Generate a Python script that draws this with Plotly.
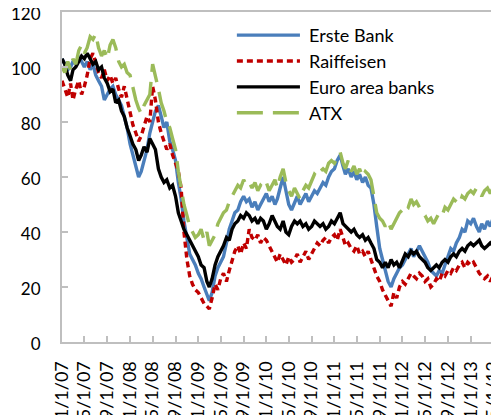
import plotly.graph_objects as go

# semi-monthly observations (1st and 16th), Jan 2007 - mid May 2013
years = range(2007, 2014)
dates = [f"{y}-{m:02d}-{d:02d}" for y in years for m in range(1, 13) for d in (1, 16)][:154]

erste = [
    103, 101, 99, 100, 102, 101, 104, 102, 100, 102, 99, 101, 97, 95, 93, 88, 90, 92, 93, 90, 88, 86, 82, 78,
    72, 68, 63, 60, 62, 66, 70, 76, 80, 84, 86, 82, 78, 80, 73, 70, 66, 58, 52, 44, 38, 32, 30, 28,
    25, 23, 20, 17, 15, 18, 24, 27, 29, 31, 36, 41, 44, 47, 48, 51, 53, 51, 52, 49, 51, 48, 50, 52,
    54, 51, 53, 50, 52, 56, 60, 55, 50, 48, 51, 53, 50, 52, 54, 51, 53, 55, 54, 56, 58, 57, 60, 62,
    63, 66, 68, 64, 61, 63, 60, 62, 59, 61, 58, 60, 57, 56, 50, 42, 34, 30, 26, 22, 20, 23, 25, 27,
    28, 30, 32, 34, 31, 33, 35, 33, 31, 29, 26, 25, 24, 26, 25, 28, 31, 34, 33, 36, 38, 41, 40, 44,
    43, 45, 42, 40, 43, 41, 44, 42, 45, 43,
]
raiffeisen = [
    95, 92, 89, 94, 88, 92, 95, 90, 93, 97, 103, 105, 101, 98, 96, 99, 95, 97, 94, 96, 92, 89, 93, 88,
    84, 79, 76, 73, 75, 78, 82, 80, 93, 88, 80, 76, 73, 70, 72, 68, 65, 62, 56, 40, 30, 24, 21, 19,
    18, 16, 14, 13, 12, 16, 21, 19, 23, 25, 22, 26, 30, 33, 35, 32, 36, 34, 41, 38, 37, 39, 36, 38,
    37, 35, 33, 31, 29, 32, 30, 28, 31, 29, 30, 32, 29, 31, 33, 30, 32, 34, 36, 35, 37, 38, 36, 38,
    39, 37, 41, 38, 35, 36, 34, 33, 35, 32, 33, 31, 33, 30, 27, 24, 22, 19, 17, 15, 13, 18, 16, 20,
    22, 21, 23, 25, 24, 23, 25, 24, 22, 23, 20, 21, 23, 22, 25, 24, 26, 25, 27, 26, 28, 29, 27, 29,
    28, 29, 27, 25, 24, 23, 24, 22, 24, 23,
]
euro_banks = [
    103, 101, 97, 95, 99, 100, 102, 104, 103, 105, 103, 101, 102, 99, 100, 96, 94, 91, 92, 87, 88, 84, 82, 78,
    75, 72, 70, 66, 68, 71, 69, 74, 72, 70, 63, 60, 58, 59, 56, 57, 53, 47, 44, 41, 39, 37, 35, 33,
    31, 28, 27, 22, 20, 23, 28, 31, 33, 35, 38, 37, 41, 43, 44, 46, 45, 47, 46, 44, 45, 43, 45, 44,
    41, 43, 46, 44, 42, 41, 44, 40, 39, 42, 44, 43, 44, 42, 43, 41, 42, 44, 43, 42, 43, 41, 42, 44,
    43, 45, 47, 43, 42, 41, 40, 41, 39, 38, 39, 37, 38, 36, 34, 30, 29, 27, 29, 27, 30, 28, 29, 27,
    30, 32, 31, 33, 32, 33, 31, 30, 29, 27, 26, 27, 28, 27, 29, 30, 29, 31, 32, 31, 33, 34, 33, 35,
    36, 35, 36, 37, 35, 34, 35, 36, 35, 37,
]
atx = [
    100, 98, 102, 99, 103, 101, 106, 108, 105, 107, 111, 110, 112, 107, 104, 106, 103, 108, 110, 107, 102, 100, 101, 98,
    97, 92, 88, 85, 83, 86, 88, 90, 101, 97, 92, 87, 84, 80, 78, 74, 70, 62, 55, 50, 46, 42, 40, 38,
    39, 41, 37, 40, 35, 37, 39, 43, 45, 47, 48, 51, 53, 55, 57, 56, 59, 57, 58, 56, 58, 55, 57, 56,
    58, 55, 57, 59, 56, 60, 63, 58, 55, 53, 56, 54, 52, 55, 57, 56, 59, 61, 60, 62, 63, 62, 65, 66,
    65, 67, 69, 65, 63, 66, 62, 64, 61, 63, 60, 62, 61, 59, 52, 47, 45, 44, 42, 44, 41, 43, 45, 47,
    48, 50, 49, 52, 50, 51, 49, 47, 46, 44, 45, 43, 45, 47, 46, 49, 48, 50, 52, 51, 50, 53, 52, 54,
    55, 54, 56, 55, 53, 55, 56, 54, 56, 55,
]

names = ["Erste Bank", "Raiffeisen", "Euro area banks", "ATX"]
series = [erste, raiffeisen, euro_banks, atx]
colors = ["#4a7ebb", "#c00000", "#000000", "#9bbb59"]
dashes = ["solid", "6px,4px", "solid", "26px,10px"]

tick_dates = [f"{y}-{m:02d}-01" for y in years for m in (1, 5, 9)][:20]
tick_text = [f"{m}/1/{y % 100:02d}" for y in years for m in (1, 5, 9)][:20]

AXIS_GREY = "#bfbfbf"

fig = go.Figure()
for name, vals, col, dash in zip(names, series, colors, dashes):
    fig.add_trace(go.Scatter(
        x=dates, y=vals, name=name, mode="lines",
        line=dict(color=col, width=3.4, dash=dash),
    ))

# legend drawn by hand so the sample lines are as long as in the original
for i, (name, col, dash) in enumerate(zip(names, colors, dashes)):
    ly = 0.930 - i * 0.0785
    fig.add_shape(type="line", xref="paper", yref="paper",
                  x0=0.402, x1=0.547, y0=ly, y1=ly,
                  line=dict(color=col, width=3.4, dash=dash))
    fig.add_annotation(xref="paper", yref="paper", x=0.563, y=ly,
                       xanchor="left", yanchor="middle", showarrow=False,
                       text=name, font=dict(size=18, color="#000000"))

# page body adds an 8px margin, so the figure is sized to fit the window
fig.update_layout(
    width=491, height=407,
    margin=dict(l=54, r=2, t=4, b=73),
    paper_bgcolor="white", plot_bgcolor="white",
    showlegend=False,
    font=dict(family="Lato, Open Sans, sans-serif", size=18, color="#000000"),
    xaxis=dict(
        type="date", range=["2007-01-01", "2013-05-22"],
        tickvals=tick_dates, ticktext=tick_text, tickangle=-90,
        ticks="inside", ticklen=6, tickcolor=AXIS_GREY, tickwidth=1.5,
        showline=True, linecolor=AXIS_GREY, linewidth=2, mirror=True,
        showgrid=False, zeroline=False, automargin=False,
        ticklabelstandoff=10, ticklabeloverflow="allow", tickfont=dict(size=18),
    ),
    yaxis=dict(
        range=[0, 120], dtick=20, tick0=0,
        ticks="inside", ticklen=6, tickcolor=AXIS_GREY, tickwidth=1.5,
        showline=True, linecolor=AXIS_GREY, linewidth=2, mirror=True,
        showgrid=False, zeroline=False, automargin=False,
        ticklabelstandoff=16, ticklabelshift=2, ticklabeloverflow="allow",
        tickfont=dict(size=17),
    ),
)

fig.write_html("out.html")
